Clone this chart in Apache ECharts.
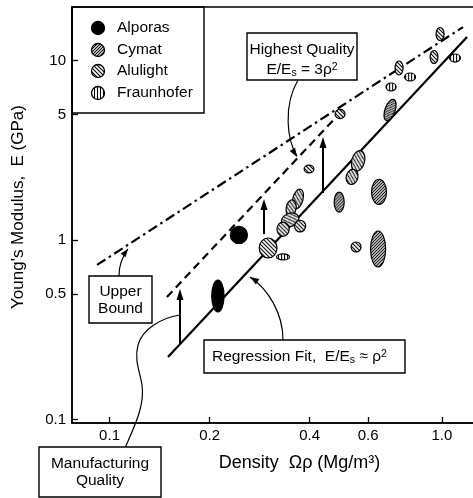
<!DOCTYPE html>
<html><head><meta charset="utf-8">
<script src="https://cdn.jsdelivr.net/npm/echarts@6/dist/echarts.min.js"></script>
<style>html,body{margin:0;padding:0;background:#fff}#c{width:473px;height:498px}</style>
</head><body><div id="c"></div>
<script>
// ---------------- data ----------------
const xTickValues = [0.1, 0.2, 0.4, 0.6, 1.0];
const xTickLabels = ['0.1', '0.2', '0.4', '0.6', '1.0'];
const yTickValues = [0.1, 0.5, 1, 5, 10];
const yTickLabels = ['0.1', '0.5', '1', '5', '10'];
const seriesNames = ['Alporas', 'Cymat', 'Alulight', 'Fraunhofer'];

// measured spread of each foam sample: [density low, density high, E low, E high]
const alporas = [
  [0.231, 0.260, 0.957, 1.191],
  [0.203, 0.221, 0.398, 0.599]
];
const cymat = [
  [0.474, 0.508, 1.43, 1.85],
  [0.614, 0.681, 1.58, 2.18],
  [0.610, 0.677, 0.708, 1.124],
  [0.674, 0.723, 4.61, 6.12]
];
const alulight = [
  [0.356, 0.382, 1.49, 1.93],
  [0.340, 0.364, 1.35, 1.68],
  [0.328, 0.372, 1.19, 1.41],
  [0.360, 0.389, 1.11, 1.29],
  [0.319, 0.347, 1.05, 1.26],
  [0.282, 0.319, 0.795, 1.027],
  [0.385, 0.412, 2.37, 2.62],
  [0.535, 0.585, 2.41, 3.16],
  [0.515, 0.559, 2.04, 2.48],
  [0.533, 0.571, 0.859, 0.976],
  [0.7225, 0.764, 8.32, 9.96],
  [0.921, 0.973, 9.65, 11.4],
  [0.960, 1.015, 12.96, 15.31],
  [0.477, 0.511, 4.76, 5.35]
];
const fraunhofer = [
  [0.318, 0.348, 0.775, 0.837],
  [0.679, 0.728, 6.78, 7.51],
  [0.772, 0.833, 7.71, 8.54],
  [1.054, 1.137, 9.83, 10.9]
];
const upperBound = [[0.0917, 0.727], [1.157, 15.4]];
const highestQuality = [[0.1488, 0.482], [0.4936, 5.11]];
const regressionFit = [[0.1499, 0.223], [1.190, 13.56]];
// manufacturing quality arrows: [density, E from, E to]
const qualityArrows = [[0.1629, 0.264, 0.534], [0.2915, 1.081, 1.695], [0.4387, 1.830, 3.756]];
// annotation anchor points (data coords)
const anchorHighest = [0.3664, 2.905];
const anchorUpper = [0.1136, 0.892];
const anchorRegression = [0.2645, 0.6229];
const anchorManufacturing = [0.1629, 0.3824];

// ---------------- styles ----------------
const tiltAlporas = [0, 0];
const tiltCymat = [0, 0, 0, -20];
const tiltAlulight = [-15, -10, 20, 0, 0, 0, 0, -15, -15, 0, 0, 0, 0, 0];
const tiltFraunhofer = [0, 0, 0, 0];
const FONT = '"Liberation Sans", Arial, Helvetica, sans-serif';

function hatch(kind, size) {
  const cv = document.createElement('canvas');
  cv.width = size; cv.height = size;
  const g = cv.getContext('2d');
  g.fillStyle = '#fff'; g.fillRect(0, 0, size, size);
  g.strokeStyle = '#000'; g.lineWidth = 1.1;
  g.beginPath();
  if (kind === 'v') { g.moveTo(1.5, 0); g.lineTo(1.5, size); }
  else if (kind === '/') {
    g.moveTo(-1, size + 1); g.lineTo(size + 1, -1);
    g.moveTo(-1, 1); g.lineTo(1, -1);
    g.moveTo(size - 1, size + 1); g.lineTo(size + 1, size - 1);
  } else {
    g.moveTo(-1, -1); g.lineTo(size + 1, size + 1);
    g.moveTo(size - 1, -1); g.lineTo(size + 1, 1);
    g.moveTo(-1, size - 1); g.lineTo(1, size + 1);
  }
  g.stroke();
  return { image: cv, repeat: 'repeat' };
}
const fills = {
  Alporas: '#000',
  Cymat: hatch('/', 3),
  Alulight: hatch('\\', 4),
  Fraunhofer: hatch('v', 3)
};

function ellipseSeries(name, data, tilts) {
  return {
    type: 'custom', name: name, coordinateSystem: 'cartesian2d', z: 4, clip: true,
    data: data.map(d => [Math.sqrt(d[0] * d[1]), Math.sqrt(d[2] * d[3]), d[0], d[1], d[2], d[3]]),
    encode: { x: [0, 2, 3], y: [1, 4, 5] },
    renderItem: function (params, api) {
      const c = api.coord([api.value(0), api.value(1)]);
      const p1 = api.coord([api.value(2), api.value(4)]);
      const p2 = api.coord([api.value(3), api.value(5)]);
      const rx = Math.abs(p2[0] - p1[0]) / 2, ry = Math.abs(p2[1] - p1[1]) / 2;
      return {
        type: 'ellipse', x: c[0], y: c[1], rotation: tilts[params.dataIndex] * Math.PI / 180,
        shape: { cx: 0, cy: 0, rx: rx, ry: ry },
        style: { fill: fills[name], stroke: '#000', lineWidth: 1.2 }
      };
    }
  };
}

function tickFmt(vals, labels) {
  return function (v) {
    for (let i = 0; i < vals.length; i++) {
      if (Math.abs(Math.log10(v) - Math.log10(vals[i])) < 1e-4) return labels[i];
    }
    return '';
  };
}

const chart = echarts.init(document.getElementById('c'), null, { renderer: 'canvas' });

const option = {
  animation: false,
  backgroundColor: '#fff',
  grid: { left: 72, top: 7, right: -10, bottom: 75, show: true, borderColor: '#000', borderWidth: 1.5, containLabel: false, outerBoundsMode: 'none' },
  xAxis: {
    type: 'log', logBase: 10, min: 0.0771, max: 1.329,
    name: 'Density  Ωρ (Mg/m³)', nameLocation: 'middle', nameGap: 31,
    nameTextStyle: { fontSize: 18, color: '#000', fontFamily: FONT, padding: [0, 0, 0, 44] },
    axisLine: { lineStyle: { color: '#000', width: 1.5 } },
    axisTick: { inside: true, length: 6, customValues: xTickValues, lineStyle: { color: '#000', width: 1.3 } },
    minorTick: { show: false },
    axisLabel: { customValues: xTickValues, formatter: tickFmt(xTickValues, xTickLabels), color: '#000', fontSize: 15, fontFamily: FONT, margin: 5 },
    splitLine: { show: false }
  },
  yAxis: {
    type: 'log', logBase: 10, min: 0.0956, max: 19.92,
    name: "Young's Modulus,  E (GPa)", nameLocation: 'middle', nameGap: 45,
    nameTextStyle: { fontSize: 17, color: '#000', fontFamily: FONT, padding: [0, 0, 0, 16] },
    axisLine: { lineStyle: { color: '#000', width: 1.5 } },
    axisTick: { inside: true, length: 6, customValues: yTickValues, lineStyle: { color: '#000', width: 1.3 } },
    axisLabel: { customValues: yTickValues, formatter: tickFmt(yTickValues, yTickLabels), color: '#000', fontSize: 15, fontFamily: FONT, margin: 6 },
    splitLine: { show: false }
  },
  series: [
    { type: 'line', name: 'Upper Bound', data: upperBound, showSymbol: false, symbol: 'none', z: 2,
      lineStyle: { color: '#000', width: 2.2, type: [10, 4, 2.5, 4] } },
    { type: 'line', name: 'Highest Quality', data: highestQuality, showSymbol: false, symbol: 'none', z: 2,
      lineStyle: { color: '#000', width: 2.2, type: [8, 5] } },
    { type: 'line', name: 'Regression Fit', data: regressionFit, showSymbol: false, symbol: 'none', z: 2,
      lineStyle: { color: '#000', width: 2.2, type: 'solid' } },
    ellipseSeries('Alporas', alporas, tiltAlporas),
    ellipseSeries('Cymat', cymat, tiltCymat),
    ellipseSeries('Alulight', alulight, tiltAlulight),
    ellipseSeries('Fraunhofer', fraunhofer, tiltFraunhofer),
    {
      type: 'custom', name: 'Manufacturing Quality', coordinateSystem: 'cartesian2d', z: 5,
      data: qualityArrows, encode: { x: 0, y: [1, 2] },
      renderItem: function (params, api) {
        const a = api.coord([api.value(0), api.value(1)]);
        const b = api.coord([api.value(0), api.value(2)]);
        const hl = 11, hw = 3.5;
        return {
          type: 'group', children: [
            { type: 'line', shape: { x1: a[0], y1: a[1], x2: b[0], y2: b[1] + hl - 1 }, style: { stroke: '#000', lineWidth: 2 } },
            { type: 'polygon', shape: { points: [[b[0], b[1]], [b[0] - hw, b[1] + hl], [b[0] + hw, b[1] + hl]] }, style: { fill: '#000' } }
          ]
        };
      }
    }
  ]
};
chart.setOption(option);

// ---------------- annotations ----------------
function px(p) { return chart.convertToPixel({ gridIndex: 0 }, p); }
function head(tip, from, len, w) {
  len = len || 9; w = w || 3.2;
  const dx = tip[0] - from[0], dy = tip[1] - from[1];
  const L = Math.hypot(dx, dy), ux = dx / L, uy = dy / L;
  const bx = tip[0] - ux * len, by = tip[1] - uy * len;
  return { type: 'polygon', shape: { points: [tip, [bx - uy * w, by + ux * w], [bx + uy * w, by - ux * w]] }, style: { fill: '#000' }, z: 20 };
}
function curve(x1, y1, c1x, c1y, c2x, c2y, x2, y2) {
  return { type: 'bezierCurve', shape: { x1: x1, y1: y1, cpx1: c1x, cpy1: c1y, cpx2: c2x, cpy2: c2y, x2: x2, y2: y2 }, style: { stroke: '#000', lineWidth: 1.2, fill: null }, z: 20 };
}
function box(x, y, w, h, fill) {
  return { type: 'rect', shape: { x: x, y: y, width: w, height: h }, style: { fill: fill === undefined ? '#fff' : fill, stroke: '#000', lineWidth: 1.4 }, z: 21 };
}
function txt(x, y, text, align, rich) {
  const s = { text: text, x: x, y: y, fill: '#000', font: '15.5px ' + FONT, align: align || 'center', verticalAlign: 'middle' };
  if (rich) s.rich = rich;
  return { type: 'text', style: s, z: 22 };
}
const subsup = {
  n: { fontSize: 15.5, fontFamily: FONT, color: '#000' },
  sb: { fontSize: 10.5, fontFamily: FONT, color: '#000', verticalAlign: 'bottom', padding: [6, 0, 0, 0] },
  sp: { fontSize: 10.5, fontFamily: FONT, color: '#000', verticalAlign: 'top', padding: [0, 0, 6, 0] }
};

const tH = px(anchorHighest), tU = px(anchorUpper), tR = px(anchorRegression), tM = px(anchorManufacturing);
const sym = [[98, 28], [98, 50], [98, 71], [98, 93]];
const graphics = [
  // legend
  box(72, 7, 132, 106, null),
];
seriesNames.forEach((n, i) => {
  graphics.push({ type: 'circle', shape: { cx: sym[i][0], cy: sym[i][1], r: 6.5 }, style: { fill: fills[n], stroke: '#000', lineWidth: 1.3 }, z: 22 });
  graphics.push(txt(117, sym[i][1], n, 'left'));
});
// Highest quality
graphics.push(curve(298, 80, 283, 106, 287, 140, tH[0], tH[1] - 1));
graphics.push(head(tH, [288, 142]));
graphics.push(box(247, 33, 110, 47));
graphics.push(txt(302, 50, 'Highest Quality'));
graphics.push(txt(302, 70, '{n|E/E}{sb|s}{n| = 3ρ}{sp|2}', 'center', subsup));
// Upper bound
graphics.push(curve(119, 276, 119, 266, 122, 257, tU[0], tU[1]));
graphics.push(head(tU, [121, 258], 8, 3));
graphics.push(box(89, 276, 63, 47));
graphics.push(txt(120.5, 292, 'Upper'));
graphics.push(txt(120.5, 309, 'Bound'));
// Regression
graphics.push(curve(283, 340, 283, 313, 268, 289, tR[0], tR[1]));
graphics.push(head(tR, [266, 287]));
graphics.push(box(204, 340, 201, 33));
graphics.push(txt(212, 357, '{n|Regression Fit,  E/E}{sb|s}{n| ≈ ρ}{sp|2}', 'left', subsup));
// Manufacturing
graphics.push(curve(125, 448, 135, 425, 145, 405, 142, 385));
graphics.push(curve(142, 385, 140, 372, 134, 360, 138, 345));
graphics.push(curve(138, 345, 142, 330, 160, 318, tM[0], tM[1]));
graphics.push(box(39, 447, 122, 50));
graphics.push(txt(100, 464, 'Manufacturing'));
graphics.push(txt(100, 481, 'Quality'));

chart.setOption({ graphic: graphics });
</script>
</body></html>
